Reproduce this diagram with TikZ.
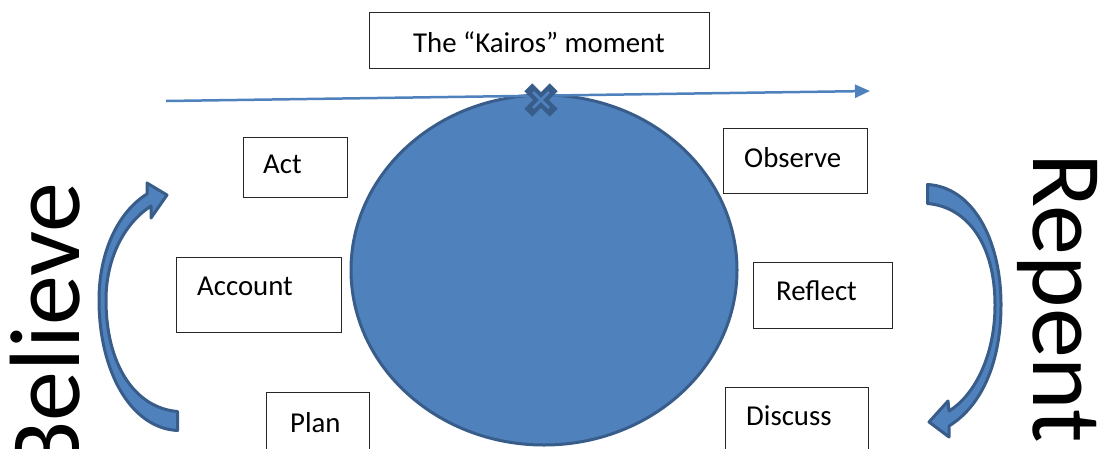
\documentclass[tikz,border=0pt]{standalone}
\usepackage{fontspec}
\setmainfont{Carlito}
\usetikzlibrary{arrows.meta,shapes.geometric}
\definecolor{accent}{HTML}{4F81BD}
\definecolor{accentdark}{HTML}{385D8A}
\begin{document}
\begin{tikzpicture}[x=1pt,y=-1pt,
  box/.style={draw=black!85, line width=1.3pt, anchor=north west, inner sep=0pt},
  lbl/.style={font=\fontsize{28.8}{34}\selectfont, inner sep=0pt, anchor=base west},
  big/.style={font=\fontsize{100}{114}\selectfont, inner sep=0pt, anchor=base west},
  blockarrow/.style={fill=accent, draw=accentdark, line width=3pt, line join=round}]
\useasboundingbox (0,0) rectangle (1110,448);
\clip (0,0) rectangle (1110,448);

% boxes
\node[box, minimum width=340pt, minimum height=56pt] (kairos) at (369,12) {};
\node[box, minimum width=104pt, minimum height=60pt] (act) at (243,137) {};
\node[box, minimum width=165pt, minimum height=75pt] (account) at (176,257) {};
\node[box, minimum width=103pt, minimum height=80pt] (plan) at (266,392) {};
\node[box, minimum width=144pt, minimum height=65pt] (observe) at (723,128) {};
\node[box, minimum width=139pt, minimum height=66pt] (reflect) at (753,262) {};
\node[box, minimum width=143pt, minimum height=80pt] (discuss) at (725,387) {};

% labels
\node[lbl, anchor=base] (tkairos) at (539,52) {The “Kairos” moment};
\node[lbl] (tact) at (263,173) {Act};
\node[lbl] (taccount) at (197,295) {Account};
\node[lbl] (tplan) at (290,432) {Plan};
\node[lbl] (tobserve) at (744,167) {Observe};
\node[lbl] (treflect) at (776,300) {Reflect};
\node[lbl] (tdiscuss) at (746,425) {Discuss};

% big circle
\node[ellipse, fill=accent, draw=accentdark, line width=3pt,
      minimum width=386pt, minimum height=350pt, inner sep=0pt] (moment) at (544,270) {};

% timeline
\coordinate (tl0) at (166,101);
\coordinate (tl1) at (870,91);
\draw[accent, line width=2.5pt, -{Triangle[length=15pt,width=13pt]}] (tl0) -- (tl1);

% cross marker
\begin{scope}[shift={(541,100)}]
  \fill[accentdark, rotate=45] (-18,-5.5) rectangle (18,5.5);
  \fill[accentdark, rotate=-45] (-18,-5.5) rectangle (18,5.5);
  \draw[accent, line width=2.5pt] (-8,-8) -- (8,8) (-8,8) -- (8,-8);
\end{scope}

% curved block arrow, left (Believe)
\path[blockarrow] (177.5,411.5) -- (177.5,430.5)
  .. controls (130,428) and (99,370) .. (99,300)
  .. controls (99,252) and (118,212) .. (147,194)
  -- (147,183) -- (167,195) -- (151,218) -- (151,206)
  .. controls (126,222) and (106,256) .. (106,300)
  .. controls (106,365) and (135,408) .. (177.5,411.5) -- cycle;

% curved block arrow, right (Repent)
\path[blockarrow] (927.5,203.5) -- (927.5,184.5)
  .. controls (973,187) and (1001,240) .. (1001,305)
  .. controls (1001,360) and (983,405) .. (949,426)
  -- (949,437) -- (929,422) -- (948,401) -- (949,411)
  .. controls (975,395) and (995,355) .. (995,305)
  .. controls (995,245) and (968,207) .. (927.5,203.5) -- cycle;

% big words
\node[big, rotate=90] (believe) at (79,476) {Believe};
\node[big, rotate=-90] (repent) at (1033,153) {Repent};
\end{tikzpicture}
\end{document}
